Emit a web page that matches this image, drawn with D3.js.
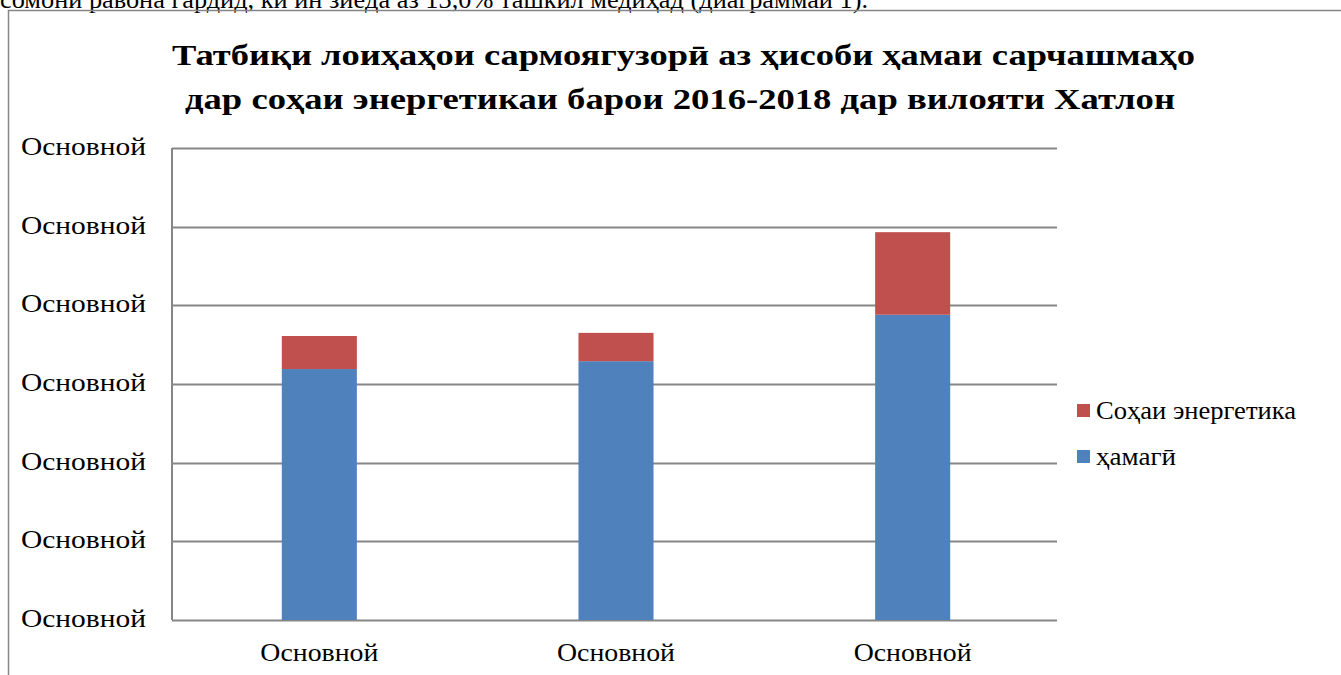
<!DOCTYPE html>
<html>
<head>
<meta charset="utf-8">
<script src="https://cdn.jsdelivr.net/npm/d3@7"></script>
<style>
  body { margin: 0; background: #fff; }
  svg { display: block; }
</style>
</head>
<body>
<div id="chart"></div>
<script>
// data (axis labels in the source are all "Основной")
const categories = ["2016", "2017", "2018"];
const categoryLabels = ["Основной", "Основной", "Основной"];
const totalValues = [3.19, 3.29, 3.88];   // ҳамагӣ
const energyValues = [0.42, 0.36, 1.05];  // Соҳаи энергетика
const yTicks = [0, 1, 2, 3, 4, 5, 6];
const yTickLabels = ["Основной", "Основной", "Основной", "Основной", "Основной", "Основной", "Основной"];
const seriesNames = ["ҳамагӣ", "Соҳаи энергетика"];
const seriesColors = ["#4F81BD", "#C0504D"];

const W = 1341, H = 675;
const plot = { left: 172, right: 1057, top: 148, bottom: 620 };
const serif = '"Liberation Serif"';

const svg = d3.select("#chart").append("svg")
    .attr("width", W)
    .attr("height", H);

// the page text above the chart, cut off at the top
svg.append("text")
    .attr("x", 0)
    .attr("y", 8)
    .attr("textLength", 868)
    .attr("lengthAdjust", "spacingAndGlyphs")
    .style("font-family", serif)
    .style("font-size", "25px")
    .text("сомони равона гардид, ки ин зиёда аз 13,0% ташкил медиҳад (диаграммаи 1).");

// chart frame
svg.append("rect")
    .attr("x", 8.5)
    .attr("y", 10.5)
    .attr("width", 1345)
    .attr("height", 700)
    .attr("fill", "none")
    .attr("stroke", "#868686")
    .attr("stroke-width", 1.5);

// title
const titleLines = [
    { text: "Татбиқи лоиҳаҳои сармоягузорӣ аз ҳисоби ҳамаи сарчашмаҳо", x: 172, y: 65, w: 1023 },
    { text: "дар соҳаи энергетикаи барои 2016-2018 дар вилояти Хатлон", x: 185, y: 109, w: 990 }
];
svg.append("g")
    .selectAll("text")
    .data(titleLines)
    .enter()
    .append("text")
    .attr("x", d => d.x)
    .attr("y", d => d.y)
    .attr("textLength", d => d.w)
    .attr("lengthAdjust", "spacingAndGlyphs")
    .style("font-family", serif)
    .style("font-size", "30px")
    .style("font-weight", "bold")
    .text(d => d.text);

const x = d3.scaleBand()
    .domain(categories)
    .range([171, 1061])
    .paddingInner(0.747)
    .paddingOuter(0.3735);

const y = d3.scaleLinear()
    .domain([0, 6])
    .range([plot.bottom, plot.top]);

// gridlines
svg.append("g")
    .selectAll("line")
    .data(yTicks)
    .enter()
    .append("line")
    .attr("x1", plot.left)
    .attr("x2", plot.right)
    .attr("y1", d => Math.round(y(d)) + 0.5)
    .attr("y2", d => Math.round(y(d)) + 0.5)
    .attr("stroke", "#868686")
    .attr("stroke-width", 2);

// vertical axis line
svg.append("line")
    .attr("x1", plot.left).attr("x2", plot.left)
    .attr("y1", plot.top).attr("y2", plot.bottom)
    .attr("stroke", "#868686")
    .attr("stroke-width", 2);

// y labels
svg.append("g")
    .selectAll("text")
    .data(yTicks)
    .enter()
    .append("text")
    .attr("x", 21)
    .attr("y", d => y(d) + 7)
    .attr("textLength", 125)
    .attr("lengthAdjust", "spacingAndGlyphs")
    .style("font-family", serif)
    .style("font-size", "25px")
    .text((d, i) => yTickLabels[i]);

// stacked bars
const rows = categories.map((c, i) => ({ cat: c, total: totalValues[i], energy: energyValues[i] }));
const layers = d3.stack().keys(["total", "energy"])(rows);

svg.append("g")
    .selectAll("g")
    .data(layers)
    .enter()
    .append("g")
    .attr("fill", (d, i) => seriesColors[i])
    .selectAll("rect")
    .data(d => d)
    .enter()
    .append("rect")
    .attr("x", d => x(d.data.cat))
    .attr("y", d => y(d[1]))
    .attr("width", x.bandwidth())
    .attr("height", d => y(d[0]) - y(d[1]));

// x labels
svg.append("g")
    .selectAll("text")
    .data(categories)
    .enter()
    .append("text")
    .attr("x", d => x(d) + x.bandwidth() / 2 - 59)
    .attr("y", 661)
    .attr("textLength", 118)
    .attr("lengthAdjust", "spacingAndGlyphs")
    .style("font-family", serif)
    .style("font-size", "25px")
    .text((d, i) => categoryLabels[i]);

// legend (energy first, then total)
const legendItems = [{ s: 1, w: 200 }, { s: 0, w: 80 }];
const legend = svg.append("g")
    .selectAll("g")
    .data(legendItems)
    .enter()
    .append("g")
    .attr("transform", (d, i) => `translate(1077, ${404 + i * 46})`);
legend.append("rect")
    .attr("width", 13)
    .attr("height", 13)
    .attr("fill", d => seriesColors[d.s]);
legend.append("text")
    .attr("x", 19)
    .attr("y", 15)
    .attr("textLength", d => d.w)
    .attr("lengthAdjust", "spacingAndGlyphs")
    .style("font-family", serif)
    .style("font-size", "26px")
    .text(d => seriesNames[d.s]);
</script>
</body>
</html>
